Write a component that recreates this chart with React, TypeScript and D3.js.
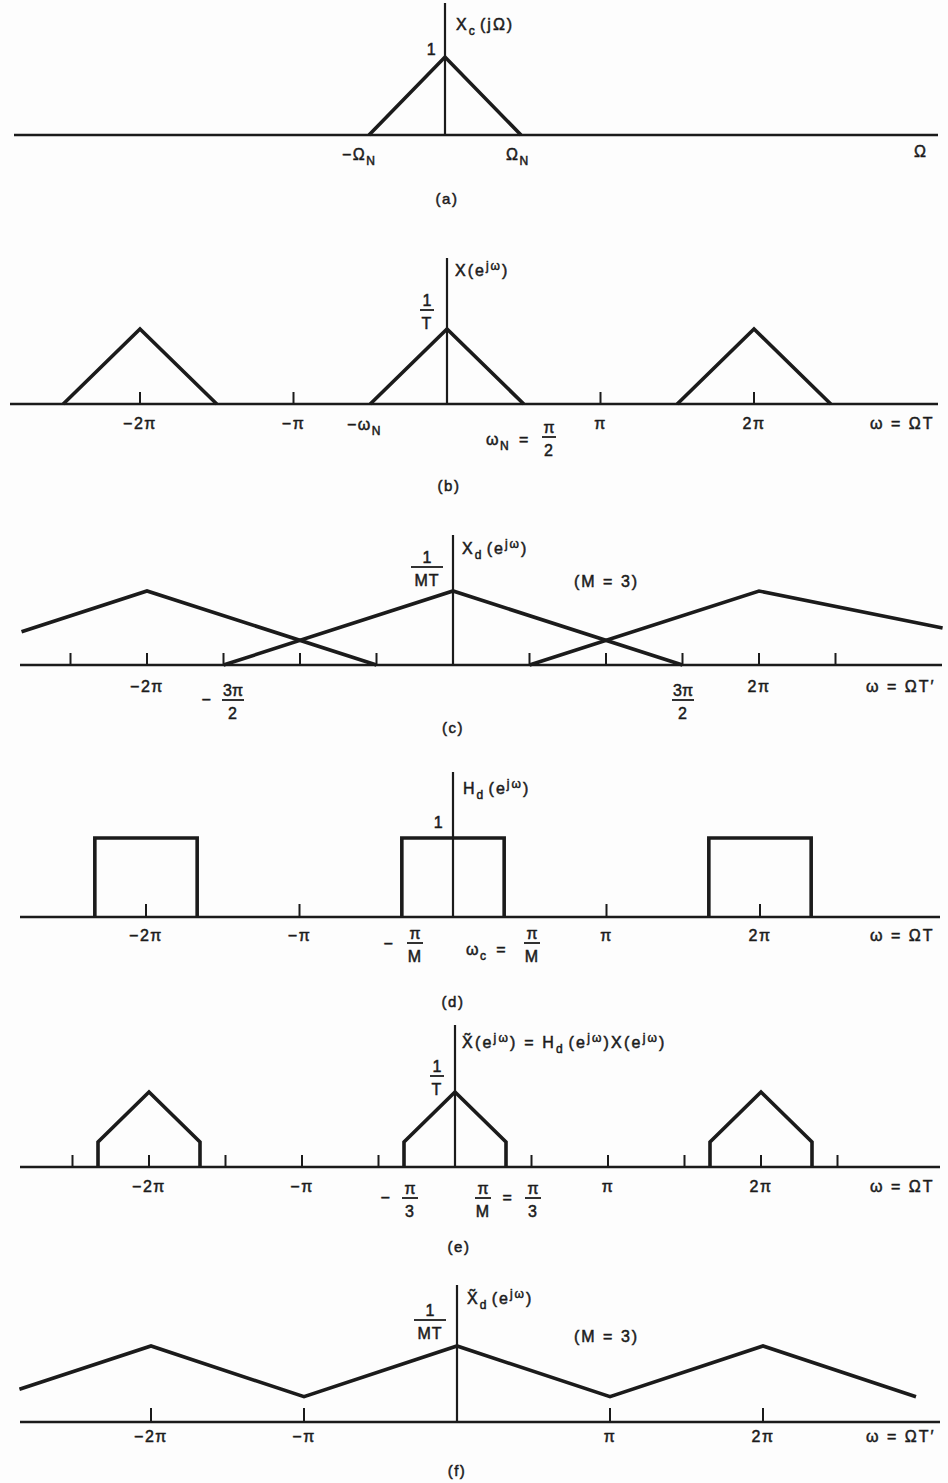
import * as d3 from 'd3';

// (a) X_c(jΩ) — Ω in units of Ω_N
const xcPoints: [number, number][] = [[-1, 0], [0, 1], [1, 0]];

// (b) X(e^jω) — ω in units of π, gain in units of 1/T
const xPeriods: [number, number][][] = [
  [[-2.5, 0], [-2, 1], [-1.5, 0]],
  [[-0.5, 0], [0, 1], [0.5, 0]],
  [[1.5, 0], [2, 1], [2.5, 0]],
];
const piTicks = [-2, -1, 1, 2];

// (c) X_d(e^jω) with aliasing, M = 3
const xdPeriods: [number, number][][] = [
  [[-2.82, 0.45], [-2, 1], [-0.5, 0]],
  [[-1.5, 0], [0, 1], [1.5, 0]],
  [[0.5, 0], [2, 1], [3.2, 0.5]],
];
const halfPiTicks = [-2.5, -2, -1.5, -1, -0.5, 0.5, 1, 1.5, 2, 2.5];

// (d) H_d(e^jω) — ideal lowpass, cutoff π/M
const hdBands: [number, number][] = [[-7 / 3, -5 / 3], [-1 / 3, 1 / 3], [5 / 3, 7 / 3]];
const hdGain = 1;

// (e) filtered spectrum
const xtPeriods: [number, number][][] = [
  [[-7 / 3, 0], [-7 / 3, 1 / 3], [-2, 1], [-5 / 3, 1 / 3], [-5 / 3, 0]],
  [[-1 / 3, 0], [-1 / 3, 1 / 3], [0, 1], [1 / 3, 1 / 3], [1 / 3, 0]],
  [[5 / 3, 0], [5 / 3, 1 / 3], [2, 1], [7 / 3, 1 / 3], [7 / 3, 0]],
];

// (f) decimated filtered spectrum
const xdtPoints: [number, number][] = [
  [-2.86, 0.43], [-2, 1], [-1, 1 / 3], [0, 1], [1, 1 / 3], [2, 1], [3, 1 / 3],
];

const INK = '#1b1b1b';
const FONT = '"Liberation Sans", Arial, sans-serif';

type Frame = { cx: number; unit: number; y0: number; yh: number; left: number; right: number; top: number };

const frames: Record<string, Frame> = {
  a: { cx: 445, unit: 76, y0: 135, yh: 78, left: 14, right: 938, top: 3 },
  b: { cx: 447, unit: 153.5, y0: 404, yh: 75, left: 10, right: 938, top: 258 },
  c: { cx: 453, unit: 153, y0: 665, yh: 74, left: 20, right: 942, top: 535 },
  d: { cx: 453, unit: 153.5, y0: 917, yh: 79, left: 20, right: 940, top: 772 },
  e: { cx: 455, unit: 153, y0: 1167, yh: 75, left: 20, right: 940, top: 1025 },
  f: { cx: 457, unit: 153, y0: 1422, yh: 76, left: 20, right: 940, top: 1285 },
};

const scales = (f: Frame) => ({
  x: d3.scaleLinear().domain([-1, 1]).range([f.cx - f.unit, f.cx + f.unit]),
  y: d3.scaleLinear().domain([0, 1]).range([f.y0, f.y0 - f.yh]),
});

const Axes = ({ f, ticks = [], tickH = 12 }: { f: Frame; ticks?: number[]; tickH?: number }) => {
  const { x } = scales(f);
  return (
    <g stroke={INK} fill="none">
      <line x1={f.left} x2={f.right} y1={f.y0} y2={f.y0} strokeWidth={2.6} />
      <line x1={f.cx} x2={f.cx} y1={f.top} y2={f.y0} strokeWidth={2.2} />
      {ticks.map(t => (
        <line key={t} x1={x(t)} x2={x(t)} y1={f.y0 - tickH} y2={f.y0} strokeWidth={2} />
      ))}
    </g>
  );
};

const Curve = ({ f, pts }: { f: Frame; pts: [number, number][] }) => {
  const { x, y } = scales(f);
  const line = d3.line<[number, number]>().x(d => x(d[0])).y(d => y(d[1]));
  return <path d={line(pts) || ''} fill="none" stroke={INK} strokeWidth={3.6} strokeLinejoin="miter" />;
};

const T = ({ x, y, anchor = 'start', size = 16, ls = 1.5, children }: any) => (
  <text x={x} y={y} textAnchor={anchor} fontSize={size} letterSpacing={ls}>{children}</text>
);

const Frac = ({ x, y, num, den, w = 16 }: { x: number; y: number; num: any; den: any; w?: number }) => (
  <g>
    <text x={x} y={y - 4} textAnchor="middle" fontSize={16}>{num}</text>
    <line x1={x - w / 2} x2={x + w / 2} y1={y} y2={y} stroke={INK} strokeWidth={1.8} />
    <text x={x} y={y + 19} textAnchor="middle" fontSize={16} letterSpacing={1}>{den}</text>
  </g>
);

const Sub = ({ s }: { s: string }) => (
  <>
    <tspan fontSize={12} dy={5}>{s}</tspan>
    <tspan dy={-5}>{'\u200a'}</tspan>
  </>
);

const Ejw = () => (
  <>
    <tspan>(e</tspan>
    <tspan fontSize={12} dy={-6}>jω</tspan>
    <tspan dy={6}>)</tspan>
  </>
);

const piLabel = (t: number) => (t === -2 ? '−2π' : t === -1 ? '−π' : t === 1 ? 'π' : '2π');

const TickLabels = ({ f, ticks, y }: { f: Frame; ticks: number[]; y: number }) => {
  const { x } = scales(f);
  return (
    <>
      {ticks.map(t => (
        <T key={t} x={x(t)} y={y} anchor="middle">{piLabel(t)}</T>
      ))}
    </>
  );
};

const App = () => {
  const { a, b, c, d, e, f } = frames;
  const sd = scales(d);
  return (
    <svg width={948} height={1483} style={{ position: 'absolute', left: 0, top: 0, background: '#fff' }}
      fontFamily={FONT} fill={INK}>
      <rect width={948} height={1483} fill="#fdfdfd" />
      <g stroke={INK} strokeWidth={0.5}>
        {/* (a) */}
        <Axes f={a} />
        <Curve f={a} pts={xcPoints} />
        <T x={432} y={55} anchor="middle">1</T>
        <T x={456} y={30} ls={2}>X<Sub s="c" />(jΩ)</T>
        <T x={342} y={160}>−Ω<Sub s="N" /></T>
        <T x={506} y={160}>Ω<Sub s="N" /></T>
        <T x={914} y={157}>Ω</T>
        <T x={447} y={204} anchor="middle" size={15}>(a)</T>

        {/* (b) */}
        <Axes f={b} ticks={piTicks} />
        {xPeriods.map((p, i) => <Curve key={i} f={b} pts={p} />)}
        <T x={455} y={276} ls={2}>X<Ejw /></T>
        <Frac x={427} y={310} num="1" den="T" w={14} />
        <TickLabels f={b} ticks={piTicks} y={429} />
        <T x={347} y={430}>−ω<Sub s="N" /></T>
        <T x={486} y={445}>ω<Sub s="N" /> =</T>
        <Frac x={549} y={437} num="π" den="2" w={14} />
        <T x={870} y={429} ls={2}>ω = ΩT</T>
        <T x={449} y={491} anchor="middle" size={15}>(b)</T>

        {/* (c) */}
        <Axes f={c} ticks={halfPiTicks} />
        {xdPeriods.map((p, i) => <Curve key={i} f={c} pts={p} />)}
        <T x={462} y={554} ls={2}>X<Sub s="d" /><Ejw /></T>
        <Frac x={427} y={567} num="1" den="MT" w={32} />
        <T x={574} y={587} ls={2}>(M = 3)</T>
        <TickLabels f={c} ticks={[-2, 2]} y={692} />
        <T x={207} y={705} anchor="middle">−</T>
        <Frac x={233} y={700} num="3π" den="2" w={22} />
        <Frac x={683} y={700} num="3π" den="2" w={22} />
        <T x={866} y={692} ls={2}>ω = ΩT′</T>
        <T x={453} y={733} anchor="middle" size={15}>(c)</T>

        {/* (d) */}
        <Axes f={d} ticks={piTicks} tickH={13} />
        {hdBands.map(([lo, hi], i) => (
          <path key={i} fill="none" stroke={INK} strokeWidth={3.6}
            d={`M${sd.x(lo)},${sd.y(0)}V${sd.y(hdGain)}H${sd.x(hi)}V${sd.y(0)}`} />
        ))}
        <T x={463} y={794} ls={2}>H<Sub s="d" /><Ejw /></T>
        <T x={439} y={828} anchor="middle">1</T>
        <TickLabels f={d} ticks={piTicks} y={941} />
        <T x={389} y={949} anchor="middle">−</T>
        <Frac x={415} y={943} num="π" den="M" w={16} />
        <T x={466} y={955}>ω<Sub s="c" /> =</T>
        <Frac x={532} y={943} num="π" den="M" w={16} />
        <T x={870} y={941} ls={2}>ω = ΩT</T>
        <T x={453} y={1007} anchor="middle" size={15}>(d)</T>

        {/* (e) */}
        <Axes f={e} ticks={halfPiTicks} />
        {xtPeriods.map((p, i) => <Curve key={i} f={e} pts={p} />)}
        <T x={462} y={1048} ls={2.2}>X̃<Ejw /> = H<Sub s="d" /><Ejw />X<Ejw /></T>
        <Frac x={437} y={1076} num="1" den="T" w={14} />
        <TickLabels f={e} ticks={piTicks} y={1192} />
        <T x={386} y={1203} anchor="middle">−</T>
        <Frac x={410} y={1198} num="π" den="3" w={16} />
        <Frac x={483} y={1198} num="π" den="M" w={16} />
        <T x={508} y={1203} anchor="middle">=</T>
        <Frac x={533} y={1198} num="π" den="3" w={16} />
        <T x={870} y={1192} ls={2}>ω = ΩT</T>
        <T x={459} y={1252} anchor="middle" size={15}>(e)</T>

        {/* (f) */}
        <Axes f={f} ticks={piTicks} tickH={14} />
        <Curve f={f} pts={xdtPoints} />
        <T x={467} y={1304} ls={2}>X̃<Sub s="d" /><Ejw /></T>
        <Frac x={430} y={1320} num="1" den="MT" w={32} />
        <T x={574} y={1342} ls={2}>(M = 3)</T>
        <TickLabels f={f} ticks={piTicks} y={1442} />
        <T x={866} y={1442} ls={2}>ω = ΩT′</T>
        <T x={457} y={1476} anchor="middle" size={15}>(f)</T>
      </g>
    </svg>
  );
};

export default App;
